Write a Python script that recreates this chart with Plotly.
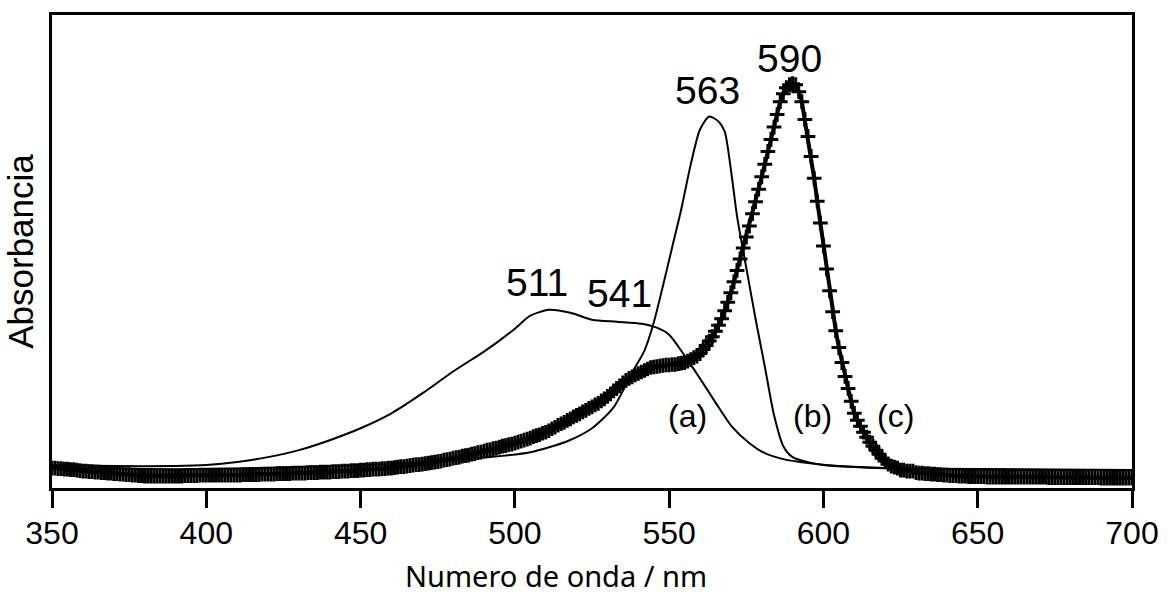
import plotly.graph_objects as go

# Absorption spectra (arbitrary absorbance units)
wavelength_a = [350, 370, 390, 400, 410, 420, 430, 440, 450, 460, 470, 480, 490, 495,
                500, 505, 511, 518, 525, 533, 541, 546, 550, 555, 560, 565, 570, 576,
                581, 587, 595, 605, 620, 650, 700]
absorb_a = [0.046, 0.044, 0.044, 0.046, 0.052, 0.062, 0.076, 0.096, 0.120, 0.150, 0.190,
            0.234, 0.274, 0.296, 0.320, 0.346, 0.358, 0.352, 0.338, 0.334, 0.330, 0.322,
            0.308, 0.266, 0.220, 0.172, 0.126, 0.090, 0.070, 0.058, 0.050, 0.044, 0.040,
            0.038, 0.036]

wavelength_b = [350, 380, 400, 430, 460, 480, 495, 505, 517, 525, 532, 538, 542, 545,
                548, 551, 554, 557, 560, 563, 566, 568, 570, 572, 575, 578, 581, 584,
                587, 590, 595, 600, 610, 630, 700]
absorb_b = [0.040, 0.038, 0.038, 0.042, 0.048, 0.056, 0.064, 0.072, 0.094, 0.120, 0.162,
            0.232, 0.276, 0.332, 0.406, 0.484, 0.562, 0.650, 0.720, 0.746, 0.736, 0.716,
            0.640, 0.546, 0.442, 0.340, 0.244, 0.146, 0.084, 0.062, 0.052, 0.046, 0.042,
            0.038, 0.036]

wavelength_c = list(range(350, 701))
absorb_c = [
    0.040, 0.040, 0.039, 0.039, 0.038, 0.038, 0.037, 0.037, 0.036, 0.035,  # 350
    0.034, 0.034, 0.033, 0.033, 0.032, 0.032, 0.031, 0.031, 0.030, 0.030,  # 360
    0.029, 0.029, 0.028, 0.028, 0.027, 0.027, 0.026, 0.026, 0.025, 0.025,  # 370
    0.024, 0.024, 0.024, 0.024, 0.024, 0.024, 0.024, 0.024, 0.024, 0.024,  # 380
    0.024, 0.024, 0.024, 0.025, 0.025, 0.025, 0.025, 0.025, 0.026, 0.026,  # 390
    0.026, 0.026, 0.026, 0.026, 0.026, 0.026, 0.026, 0.026, 0.026, 0.026,  # 400
    0.026, 0.026, 0.027, 0.027, 0.027, 0.027, 0.027, 0.027, 0.028, 0.028,  # 410
    0.028, 0.028, 0.028, 0.029, 0.029, 0.029, 0.029, 0.029, 0.030, 0.030,  # 420
    0.030, 0.030, 0.030, 0.031, 0.031, 0.031, 0.031, 0.032, 0.032, 0.032,  # 430
    0.032, 0.033, 0.033, 0.033, 0.034, 0.034, 0.034, 0.035, 0.035, 0.035,  # 440
    0.036, 0.036, 0.037, 0.037, 0.038, 0.038, 0.038, 0.039, 0.039, 0.040,  # 450
    0.040, 0.041, 0.042, 0.043, 0.043, 0.044, 0.045, 0.046, 0.047, 0.047,  # 460
    0.048, 0.049, 0.050, 0.051, 0.052, 0.053, 0.054, 0.056, 0.057, 0.058,  # 470
    0.060, 0.061, 0.062, 0.064, 0.065, 0.066, 0.068, 0.069, 0.071, 0.072,  # 480
    0.074, 0.076, 0.077, 0.079, 0.080, 0.082, 0.084, 0.085, 0.087, 0.088,  # 490
    0.090, 0.092, 0.094, 0.096, 0.098, 0.100, 0.103, 0.105, 0.107, 0.110,  # 500
    0.112, 0.115, 0.119, 0.122, 0.126, 0.129, 0.132, 0.136, 0.139, 0.143,  # 510
    0.146, 0.149, 0.153, 0.156, 0.160, 0.163, 0.167, 0.170, 0.175, 0.179,  # 520
    0.184, 0.189, 0.195, 0.200, 0.205, 0.211, 0.216, 0.220, 0.223, 0.227,  # 530
    0.230, 0.233, 0.236, 0.239, 0.242, 0.243, 0.244, 0.245, 0.246, 0.247,  # 540
    0.247, 0.248, 0.248, 0.250, 0.251, 0.252, 0.255, 0.258, 0.262, 0.265,  # 550
    0.270, 0.278, 0.286, 0.295, 0.304, 0.315, 0.327, 0.340, 0.356, 0.373,  # 560
    0.392, 0.414, 0.437, 0.460, 0.482, 0.504, 0.526, 0.551, 0.575, 0.600,  # 570
    0.625, 0.650, 0.676, 0.700, 0.725, 0.750, 0.776, 0.792, 0.804, 0.810,  # 580
    0.812, 0.810, 0.796, 0.776, 0.740, 0.706, 0.666, 0.622, 0.576, 0.532,  # 590
    0.486, 0.440, 0.396, 0.354, 0.316, 0.282, 0.252, 0.224, 0.200, 0.174,  # 600
    0.150, 0.136, 0.124, 0.112, 0.102, 0.092, 0.084, 0.076, 0.068, 0.060,  # 610
    0.054, 0.048, 0.044, 0.042, 0.040, 0.036, 0.036, 0.034, 0.034, 0.034,  # 620
    0.031, 0.030, 0.030, 0.029, 0.029, 0.028, 0.028, 0.027, 0.027, 0.026,  # 630
    0.026, 0.025, 0.025, 0.025, 0.024, 0.024, 0.024, 0.023, 0.023, 0.023,  # 640
    0.023, 0.023, 0.023, 0.022, 0.022, 0.022, 0.022, 0.022, 0.022, 0.022,  # 650
    0.022, 0.022, 0.022, 0.022, 0.022, 0.022, 0.022, 0.022, 0.022, 0.022,  # 660
    0.022, 0.022, 0.022, 0.021, 0.021, 0.021, 0.021, 0.021, 0.021, 0.021,  # 670
    0.021, 0.021, 0.021, 0.021, 0.021, 0.021, 0.021, 0.021, 0.021, 0.021,  # 680
    0.020, 0.020, 0.020, 0.020, 0.020, 0.020, 0.020, 0.020, 0.020, 0.020,  # 690
    0.020,                                                                  # 700
]

# Peak labels: (text, wavelength, absorbance at label centre, x shift in px)
peak_labels = [("511", 511, 0.412, -12), ("541", 541, 0.390, -22),
               ("563", 563, 0.798, -2), ("590", 590, 0.862, -3)]
# Curve labels: (text, wavelength, absorbance)
curve_labels = [("(a)", 556, 0.145), ("(b)", 596.5, 0.145), ("(c)", 623.5, 0.145)]

FONT = "Liberation Sans, Arial, sans-serif"
BLACK = "#000000"

fig = go.Figure()

fig.add_trace(go.Scatter(
    x=wavelength_a, y=absorb_a, mode="lines", name="(a)",
    line=dict(color=BLACK, width=2, shape="spline", smoothing=0.7),
))
fig.add_trace(go.Scatter(
    x=wavelength_b, y=absorb_b, mode="lines", name="(b)",
    line=dict(color=BLACK, width=2, shape="spline", smoothing=0.7),
))
fig.add_trace(go.Scatter(
    x=wavelength_c, y=absorb_c, mode="lines+markers", name="(c)",
    line=dict(color=BLACK, width=4),
    marker=dict(symbol="cross-thin", size=10.5, color=BLACK,
                line=dict(color=BLACK, width=3)),
))

for text, x, y, dx in peak_labels:
    fig.add_annotation(x=x, y=y, xref="x", yref="y", text=text, showarrow=False,
                       xshift=dx, font=dict(family=FONT, size=39, color=BLACK))
for text, x, y in curve_labels:
    fig.add_annotation(x=x, y=y, xref="x", yref="y", text=text, showarrow=False,
                       font=dict(family=FONT, size=32, color=BLACK))

# Axis title placed below the tick labels, slightly left of the plot centre
fig.add_annotation(x=0.467, y=-0.186, xref="paper", yref="paper",
                   xanchor="center", yanchor="middle",
                   text="Numero de onda / nm", showarrow=False,
                   font=dict(family="Noto Sans, sans-serif", size=29, color=BLACK))

fig.update_layout(
    width=1171, height=598,
    margin=dict(l=52, r=38, t=13, b=110),
    paper_bgcolor="white", plot_bgcolor="white",
    showlegend=False,
    font=dict(family=FONT, color=BLACK),
)
fig.update_xaxes(
    range=[350, 700], dtick=50, tick0=350,
    showline=True, mirror=True, linecolor=BLACK, linewidth=2.5,
    ticks="outside", ticklen=17, tickwidth=2.5, tickcolor=BLACK,
    tickfont=dict(family=FONT, size=32, color=BLACK), ticklabelstandoff=-2,
    showgrid=False, zeroline=False,
)
fig.update_yaxes(
    range=[0, 0.95], showticklabels=False, ticks="",
    showline=True, mirror=True, linecolor=BLACK, linewidth=2.5,
    showgrid=False, zeroline=False,
    title=dict(text="Absorbancia", font=dict(family=FONT, size=35, color=BLACK), standoff=6),
)

fig.write_html("out.html")
